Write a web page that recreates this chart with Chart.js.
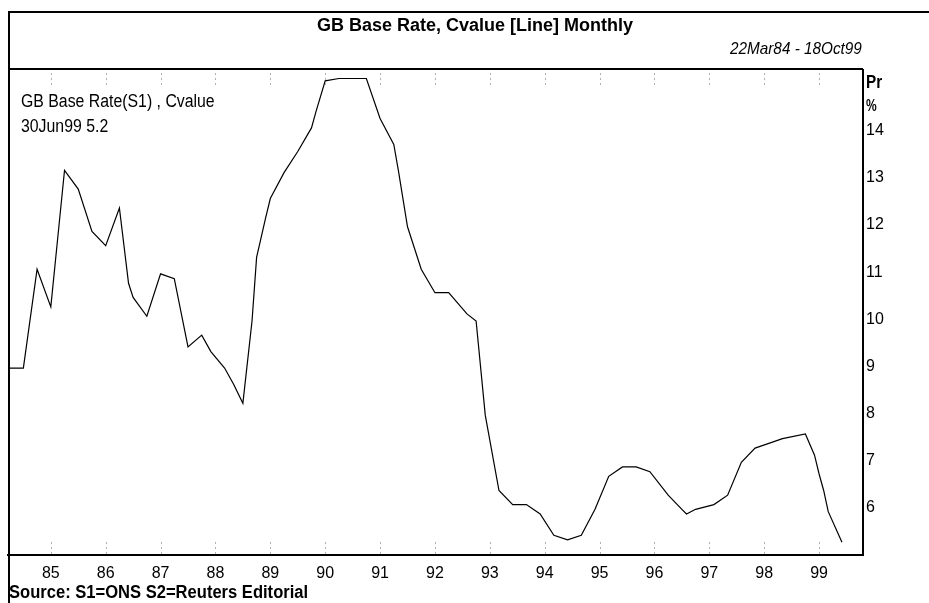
<!DOCTYPE html>
<html>
<head>
<meta charset="utf-8">
<script src="https://cdn.jsdelivr.net/npm/chart.js@4.4.1/dist/chart.umd.min.js"></script>
<style>
  body { margin: 0; background: #fff; }
  #wrap { position: relative; width: 929px; height: 603px; overflow: hidden; }
  #c { position: absolute; left: 0; top: 0; }
  .rule { position: absolute; background: #000; }
  .txt { position: absolute; white-space: nowrap; color: #000; line-height: 18px;
         font-family: "Liberation Sans", Arial, sans-serif; transform-origin: 0 50%; }
</style>
</head>
<body>
<div id="wrap">
  <canvas id="c" width="929" height="603"></canvas>
  <div class="rule" style="left:8px; top:11px; width:921px; height:2px;"></div>
  <div class="rule" style="left:8px; top:68px; width:855px; height:2px;"></div>
  <div class="rule" style="left:8px; top:11px; width:2px; height:592px;"></div>

  <div class="txt" style="left:0; width:950px; text-align:center; top:16px; font-size:18px; font-weight:bold; transform:scaleX(1);">GB Base Rate, Cvalue [Line] Monthly</div>
  <div class="txt" style="left:730px; top:40px; font-size:17px; font-style:italic; transform:scaleX(0.9);">22Mar84 - 18Oct99</div>
  <div class="txt" style="left:21px; top:92px; font-size:18px; transform:scaleX(0.88);">GB Base Rate(S1) , Cvalue</div>
  <div class="txt" style="left:21px; top:117px; font-size:18px; transform:scaleX(0.88);">30Jun99 5.2</div>
  <div class="txt" style="left:866px; top:73px; font-size:18px; font-weight:bold; transform:scaleX(0.85);">Pr</div>
  <div class="txt" style="left:866px; top:97px; font-size:16px; font-weight:bold; transform:scaleX(0.75);">%</div>
  <div class="txt" style="left:9px; top:583px; font-size:18px; font-weight:bold; transform:scaleX(0.92);">Source: S1=ONS S2=Reuters Editorial</div>
</div>
<script>
// GB base rate, monthly
const months = [
  '1984-03', '1984-07', '1984-10', '1985-01', '1985-04', '1985-07', '1985-10',
  '1986-01', '1986-04', '1986-06', '1986-07', '1986-10', '1987-01', '1987-04',
  '1987-07', '1987-10', '1987-12', '1988-03', '1988-05', '1988-07', '1988-09',
  '1988-10', '1988-12', '1989-01', '1989-04', '1989-07', '1989-10', '1989-11',
  '1990-01', '1990-04', '1990-10', '1991-01', '1991-04', '1991-05', '1991-07',
  '1991-10', '1992-01', '1992-04', '1992-08', '1992-10', '1992-12', '1993-03',
  '1993-06', '1993-09', '1993-12', '1994-03', '1994-06', '1994-09', '1994-12',
  '1995-03', '1995-06', '1995-09', '1995-12', '1996-04', '1996-07', '1996-08',
  '1996-10', '1997-02', '1997-05', '1997-08', '1997-11', '1998-02', '1998-05',
  '1998-10', '1998-12', '1999-01', '1999-02', '1999-03', '1999-06'
];
const baseRate = [
  8.9, 8.9, 11.0, 10.2, 13.1, 12.7, 11.8,
  11.5, 12.3, 10.7, 10.4, 10.0, 10.9, 10.8,
  9.35, 9.6, 9.25, 8.9, 8.55, 8.15, 9.9,
  11.25, 12.1, 12.5, 13.05, 13.5, 14.0, 14.35,
  15.0, 15.05, 15.05, 14.2, 13.65, 13.1, 11.9,
  11.0, 10.5, 10.5, 10.05, 9.9, 7.9, 6.3,
  6.0, 6.0, 5.8, 5.35, 5.25, 5.35, 5.9,
  6.6, 6.8, 6.8, 6.7, 6.2, 5.9, 5.8,
  5.9, 6.0, 6.2, 6.9, 7.2, 7.3, 7.4,
  7.5, 7.05, 6.65, 6.3, 5.85, 5.2
];
const tickYears = [1985, 1986, 1987, 1988, 1989, 1990, 1991, 1992, 1993, 1994, 1995, 1996, 1997, 1998, 1999];
const xTickLabels = ['85', '86', '87', '88', '89', '90', '91', '92', '93', '94', '95', '96', '97', '98', '99'];
const yTicks = [6, 7, 8, 9, 10, 11, 12, 13, 14];

const tickFont = { family: '"Liberation Sans", Arial, sans-serif', size: 16 };

function toYear(m) {
    const [y, mo] = m.split('-').map(Number);
    return y + (mo - 1) / 12;
}

const points = months.map((m, i) => ({ x: toYear(m), y: baseRate[i] }));

// faint dotted specks at each year, top and bottom of the plot
const yearSpecks = {
    id: 'yearSpecks',
    afterDatasetsDraw(chart) {
        const { ctx, chartArea, scales } = chart;
        ctx.save();
        ctx.strokeStyle = '#b0b0b0';
        ctx.lineWidth = 1;
        ctx.setLineDash([2, 3]);
        tickYears.forEach(yr => {
            const x = Math.round(scales.x.getPixelForValue(yr)) + 0.5;
            ctx.beginPath();
            ctx.moveTo(x, chartArea.top + 3);
            ctx.lineTo(x, chartArea.top + 15);
            ctx.moveTo(x, chartArea.bottom - 13);
            ctx.lineTo(x, chartArea.bottom - 1);
            ctx.stroke();
        });
        ctx.restore();
    }
};

new Chart(document.getElementById('c').getContext('2d'), {
    type: 'line',
    data: {
        datasets: [{
            data: points,
            borderColor: '#000',
            borderWidth: 1.2,
            pointRadius: 0,
            tension: 0,
            fill: false
        }]
    },
    options: {
        responsive: false,
        animation: false,
        layout: { padding: { left: 8, top: 70, right: 0, bottom: 0 } },
        plugins: { legend: { display: false }, tooltip: { enabled: false } },
        scales: {
            x: {
                type: 'linear',
                min: 1984.22,
                max: 1999.8,
                afterBuildTicks: scale => { scale.ticks = tickYears.map(v => ({ value: v })); },
                afterFit: scale => { scale.height = 48; },
                grid: { display: false, drawTicks: false },
                border: { display: true, color: '#000', width: 2 },
                ticks: {
                    padding: 9,
                    color: '#000',
                    font: tickFont,
                    maxRotation: 0,
                    autoSkip: false,
                    callback: v => xTickLabels[tickYears.indexOf(v)]
                }
            },
            y: {
                position: 'right',
                min: 4.93,
                max: 15.23,
                afterBuildTicks: scale => { scale.ticks = yTicks.map(v => ({ value: v })); },
                afterFit: scale => { scale.width = 66; },
                grid: { display: false, drawTicks: false },
                border: { display: true, color: '#000', width: 2 },
                ticks: {
                    padding: 3,
                    labelOffset: 3,
                    color: '#000',
                    font: tickFont,
                    callback: v => String(v)
                }
            }
        }
    },
    plugins: [yearSpecks]
});
</script>
</body>
</html>
